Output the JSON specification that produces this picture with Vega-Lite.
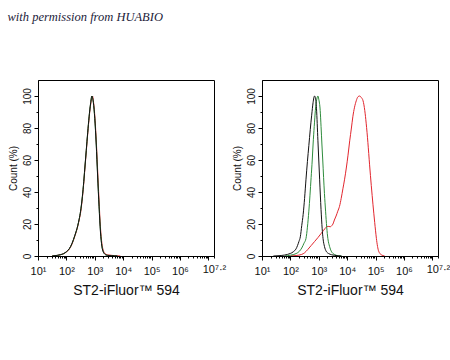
{
  "$schema": "https://vega.github.io/schema/vega-lite/v6.json",
  "autosize": {"type": "pad"},
  "padding": {"left": 7, "top": 11, "right": 5, "bottom": 5},
  "background": "white",
  "title": {"text": "with permission from HUABIO", "anchor": "start", "frame": "bounds", "font": "Liberation Serif", "fontStyle": "italic", "fontWeight": "normal", "fontSize": 12.5, "color": "#1c1c3a", "offset": 56},
  "config": {
    "view": {"stroke": "black", "strokeWidth": 1},
    "axis": {"domainColor": "black", "tickColor": "black", "labelColor": "#111", "titleColor": "#111", "labelFont": "Liberation Sans", "titleFont": "Liberation Sans", "titleFontWeight": "normal", "grid": false, "labelOverlap": false, "labelFlush": false}
  },
  "spacing": 4,
  "datasets": {
    "p1": [
      {"series": "Sample", "x": 1.5, "y": 0}, {"series": "Sample", "x": 1.6, "y": 0.2}, {"series": "Sample", "x": 1.7, "y": 0.4}, {"series": "Sample", "x": 1.8, "y": 0.8}, {"series": "Sample", "x": 1.9, "y": 1.4}, {"series": "Sample", "x": 2.0, "y": 2.5}, {"series": "Sample", "x": 2.1, "y": 4.2}, {"series": "Sample", "x": 2.2, "y": 7.5}, {"series": "Sample", "x": 2.3, "y": 12.5}, {"series": "Sample", "x": 2.4, "y": 18.5}, {"series": "Sample", "x": 2.45, "y": 22.5}, {"series": "Sample", "x": 2.5, "y": 27}, {"series": "Sample", "x": 2.55, "y": 34}, {"series": "Sample", "x": 2.6, "y": 43}, {"series": "Sample", "x": 2.65, "y": 54}, {"series": "Sample", "x": 2.7, "y": 65}, {"series": "Sample", "x": 2.75, "y": 76}, {"series": "Sample", "x": 2.8, "y": 86}, {"series": "Sample", "x": 2.85, "y": 94}, {"series": "Sample", "x": 2.9, "y": 99}, {"series": "Sample", "x": 2.92, "y": 100}, {"series": "Sample", "x": 2.95, "y": 97}, {"series": "Sample", "x": 3.0, "y": 88}, {"series": "Sample", "x": 3.05, "y": 73}, {"series": "Sample", "x": 3.1, "y": 54}, {"series": "Sample", "x": 3.15, "y": 35}, {"series": "Sample", "x": 3.2, "y": 18}, {"series": "Sample", "x": 3.25, "y": 8}, {"series": "Sample", "x": 3.3, "y": 3.5}, {"series": "Sample", "x": 3.35, "y": 1.8}, {"series": "Sample", "x": 3.4, "y": 1}, {"series": "Sample", "x": 3.5, "y": 0.6}, {"series": "Sample", "x": 3.6, "y": 0.4}, {"series": "Sample", "x": 3.7, "y": 0.2}, {"series": "Sample", "x": 3.8, "y": 0.1}, {"series": "Sample", "x": 3.9, "y": 0},
      {"series": "Isotype", "x": 1.5, "y": 0}, {"series": "Isotype", "x": 1.6, "y": 0.2}, {"series": "Isotype", "x": 1.7, "y": 0.4}, {"series": "Isotype", "x": 1.8, "y": 0.8}, {"series": "Isotype", "x": 1.9, "y": 1.4}, {"series": "Isotype", "x": 2.0, "y": 2.6}, {"series": "Isotype", "x": 2.1, "y": 4.4}, {"series": "Isotype", "x": 2.2, "y": 7.8}, {"series": "Isotype", "x": 2.3, "y": 12.8}, {"series": "Isotype", "x": 2.4, "y": 18.8}, {"series": "Isotype", "x": 2.45, "y": 23}, {"series": "Isotype", "x": 2.5, "y": 28}, {"series": "Isotype", "x": 2.55, "y": 35}, {"series": "Isotype", "x": 2.6, "y": 44}, {"series": "Isotype", "x": 2.65, "y": 55}, {"series": "Isotype", "x": 2.7, "y": 66}, {"series": "Isotype", "x": 2.75, "y": 77}, {"series": "Isotype", "x": 2.8, "y": 87}, {"series": "Isotype", "x": 2.85, "y": 95}, {"series": "Isotype", "x": 2.9, "y": 100}, {"series": "Isotype", "x": 2.92, "y": 99}, {"series": "Isotype", "x": 2.95, "y": 96}, {"series": "Isotype", "x": 3.0, "y": 86}, {"series": "Isotype", "x": 3.05, "y": 71}, {"series": "Isotype", "x": 3.1, "y": 51}, {"series": "Isotype", "x": 3.15, "y": 32}, {"series": "Isotype", "x": 3.2, "y": 16}, {"series": "Isotype", "x": 3.25, "y": 6.5}, {"series": "Isotype", "x": 3.3, "y": 2.8}, {"series": "Isotype", "x": 3.35, "y": 1.3}, {"series": "Isotype", "x": 3.4, "y": 0.7}, {"series": "Isotype", "x": 3.5, "y": 0.3}, {"series": "Isotype", "x": 3.6, "y": 0.2}, {"series": "Isotype", "x": 3.7, "y": 0.1}, {"series": "Isotype", "x": 3.8, "y": 0},
      {"series": "Blank", "x": 1.5, "y": 0}, {"series": "Blank", "x": 1.6, "y": 0.2}, {"series": "Blank", "x": 1.7, "y": 0.5}, {"series": "Blank", "x": 1.8, "y": 0.9}, {"series": "Blank", "x": 1.9, "y": 1.5}, {"series": "Blank", "x": 2.0, "y": 2.7}, {"series": "Blank", "x": 2.1, "y": 4.5}, {"series": "Blank", "x": 2.2, "y": 8}, {"series": "Blank", "x": 2.3, "y": 13}, {"series": "Blank", "x": 2.4, "y": 19}, {"series": "Blank", "x": 2.45, "y": 23}, {"series": "Blank", "x": 2.5, "y": 28}, {"series": "Blank", "x": 2.55, "y": 35}, {"series": "Blank", "x": 2.6, "y": 44}, {"series": "Blank", "x": 2.65, "y": 55}, {"series": "Blank", "x": 2.7, "y": 66}, {"series": "Blank", "x": 2.75, "y": 77}, {"series": "Blank", "x": 2.8, "y": 87}, {"series": "Blank", "x": 2.85, "y": 95}, {"series": "Blank", "x": 2.9, "y": 100}, {"series": "Blank", "x": 2.92, "y": 99}, {"series": "Blank", "x": 2.95, "y": 96}, {"series": "Blank", "x": 3.0, "y": 86}, {"series": "Blank", "x": 3.05, "y": 70}, {"series": "Blank", "x": 3.1, "y": 50}, {"series": "Blank", "x": 3.15, "y": 31}, {"series": "Blank", "x": 3.2, "y": 15}, {"series": "Blank", "x": 3.25, "y": 6}, {"series": "Blank", "x": 3.3, "y": 2.5}, {"series": "Blank", "x": 3.35, "y": 1.2}, {"series": "Blank", "x": 3.4, "y": 0.6}, {"series": "Blank", "x": 3.5, "y": 0.3}, {"series": "Blank", "x": 3.6, "y": 0.2}, {"series": "Blank", "x": 3.7, "y": 0.1}, {"series": "Blank", "x": 3.8, "y": 0}
    ],
    "p2": [
      {"series": "Sample", "x": 2.0, "y": 0}, {"series": "Sample", "x": 2.2, "y": 0.3}, {"series": "Sample", "x": 2.4, "y": 1}, {"series": "Sample", "x": 2.5, "y": 2}, {"series": "Sample", "x": 2.61, "y": 4}, {"series": "Sample", "x": 2.73, "y": 6.5}, {"series": "Sample", "x": 2.85, "y": 9}, {"series": "Sample", "x": 2.97, "y": 11.5}, {"series": "Sample", "x": 3.08, "y": 14}, {"series": "Sample", "x": 3.17, "y": 16}, {"series": "Sample", "x": 3.26, "y": 18}, {"series": "Sample", "x": 3.33, "y": 18.5}, {"series": "Sample", "x": 3.41, "y": 18.3}, {"series": "Sample", "x": 3.46, "y": 19}, {"series": "Sample", "x": 3.5, "y": 20}, {"series": "Sample", "x": 3.55, "y": 22.5}, {"series": "Sample", "x": 3.61, "y": 25}, {"series": "Sample", "x": 3.67, "y": 28}, {"series": "Sample", "x": 3.73, "y": 31}, {"series": "Sample", "x": 3.79, "y": 36}, {"series": "Sample", "x": 3.85, "y": 42}, {"series": "Sample", "x": 3.91, "y": 48}, {"series": "Sample", "x": 3.97, "y": 55}, {"series": "Sample", "x": 4.03, "y": 63}, {"series": "Sample", "x": 4.09, "y": 72}, {"series": "Sample", "x": 4.15, "y": 80}, {"series": "Sample", "x": 4.2, "y": 87}, {"series": "Sample", "x": 4.26, "y": 93}, {"series": "Sample", "x": 4.32, "y": 97}, {"series": "Sample", "x": 4.38, "y": 99.5}, {"series": "Sample", "x": 4.44, "y": 100}, {"series": "Sample", "x": 4.5, "y": 99}, {"series": "Sample", "x": 4.56, "y": 97}, {"series": "Sample", "x": 4.62, "y": 91}, {"series": "Sample", "x": 4.67, "y": 83}, {"series": "Sample", "x": 4.73, "y": 71}, {"series": "Sample", "x": 4.79, "y": 57}, {"series": "Sample", "x": 4.85, "y": 44}, {"series": "Sample", "x": 4.91, "y": 32}, {"series": "Sample", "x": 4.97, "y": 21}, {"series": "Sample", "x": 5.03, "y": 11}, {"series": "Sample", "x": 5.07, "y": 6}, {"series": "Sample", "x": 5.11, "y": 3}, {"series": "Sample", "x": 5.2, "y": 0.8}, {"series": "Sample", "x": 5.32, "y": 0},
      {"series": "Isotype", "x": 1.8, "y": 0}, {"series": "Isotype", "x": 2.0, "y": 0.5}, {"series": "Isotype", "x": 2.2, "y": 1.5}, {"series": "Isotype", "x": 2.32, "y": 3}, {"series": "Isotype", "x": 2.4, "y": 5}, {"series": "Isotype", "x": 2.48, "y": 8}, {"series": "Isotype", "x": 2.55, "y": 11}, {"series": "Isotype", "x": 2.6, "y": 18}, {"series": "Isotype", "x": 2.65, "y": 28}, {"series": "Isotype", "x": 2.69, "y": 38}, {"series": "Isotype", "x": 2.73, "y": 49}, {"series": "Isotype", "x": 2.77, "y": 60}, {"series": "Isotype", "x": 2.8, "y": 70}, {"series": "Isotype", "x": 2.84, "y": 81}, {"series": "Isotype", "x": 2.88, "y": 91}, {"series": "Isotype", "x": 2.93, "y": 98}, {"series": "Isotype", "x": 2.97, "y": 100}, {"series": "Isotype", "x": 3.0, "y": 98}, {"series": "Isotype", "x": 3.05, "y": 91}, {"series": "Isotype", "x": 3.08, "y": 81}, {"series": "Isotype", "x": 3.11, "y": 70}, {"series": "Isotype", "x": 3.14, "y": 60}, {"series": "Isotype", "x": 3.17, "y": 49}, {"series": "Isotype", "x": 3.2, "y": 39}, {"series": "Isotype", "x": 3.24, "y": 28}, {"series": "Isotype", "x": 3.28, "y": 18}, {"series": "Isotype", "x": 3.32, "y": 11}, {"series": "Isotype", "x": 3.38, "y": 6}, {"series": "Isotype", "x": 3.44, "y": 3}, {"series": "Isotype", "x": 3.55, "y": 1}, {"series": "Isotype", "x": 3.67, "y": 0.2}, {"series": "Isotype", "x": 3.8, "y": 0},
      {"series": "Blank", "x": 1.4, "y": 0}, {"series": "Blank", "x": 1.6, "y": 0.2}, {"series": "Blank", "x": 1.8, "y": 0.6}, {"series": "Blank", "x": 1.9, "y": 1}, {"series": "Blank", "x": 2.0, "y": 1.6}, {"series": "Blank", "x": 2.1, "y": 2.6}, {"series": "Blank", "x": 2.2, "y": 4.5}, {"series": "Blank", "x": 2.3, "y": 9}, {"series": "Blank", "x": 2.35, "y": 12}, {"series": "Blank", "x": 2.4, "y": 19}, {"series": "Blank", "x": 2.45, "y": 26}, {"series": "Blank", "x": 2.5, "y": 36}, {"series": "Blank", "x": 2.55, "y": 48}, {"series": "Blank", "x": 2.6, "y": 59}, {"series": "Blank", "x": 2.65, "y": 69}, {"series": "Blank", "x": 2.7, "y": 79}, {"series": "Blank", "x": 2.75, "y": 88}, {"series": "Blank", "x": 2.8, "y": 96}, {"series": "Blank", "x": 2.85, "y": 100}, {"series": "Blank", "x": 2.88, "y": 99}, {"series": "Blank", "x": 2.92, "y": 92}, {"series": "Blank", "x": 2.97, "y": 72}, {"series": "Blank", "x": 3.0, "y": 60}, {"series": "Blank", "x": 3.03, "y": 48}, {"series": "Blank", "x": 3.08, "y": 29}, {"series": "Blank", "x": 3.12, "y": 17}, {"series": "Blank", "x": 3.15, "y": 11}, {"series": "Blank", "x": 3.2, "y": 6}, {"series": "Blank", "x": 3.26, "y": 3}, {"series": "Blank", "x": 3.35, "y": 1.5}, {"series": "Blank", "x": 3.45, "y": 0.8}, {"series": "Blank", "x": 3.56, "y": 0.4}, {"series": "Blank", "x": 3.7, "y": 0.1}, {"series": "Blank", "x": 3.8, "y": 0}
    ]
  },
  "hconcat": [
    {
      "width": 176, "height": 176,
      "data": {"name": "p1"},
      "mark": {"type": "line", "strokeWidth": 1, "interpolate": "monotone", "clip": true},
      "encoding": {
        "x": {"field": "x", "type": "quantitative", "scale": {"domain": [1, 7.2], "nice": false, "zero": false},
          "axis": {"title": "ST2-iFluor™ 594", "titleFontSize": 14, "titlePadding": 7, "labelFontSize": 11, "labelPadding": 5,
            "values": [1, 1.30103, 1.47712, 1.60206, 1.69897, 1.77815, 1.8451, 1.90309, 1.95424, 2, 2.30103, 2.47712, 2.60206, 2.69897, 2.77815, 2.8451, 2.90309, 2.95424, 3, 3.30103, 3.47712, 3.60206, 3.69897, 3.77815, 3.8451, 3.90309, 3.95424, 4, 4.30103, 4.47712, 4.60206, 4.69897, 4.77815, 4.8451, 4.90309, 4.95424, 5, 5.30103, 5.47712, 5.60206, 5.69897, 5.77815, 5.8451, 5.90309, 5.95424, 6, 6.30103, 6.47712, 6.60206, 6.69897, 6.77815, 6.8451, 6.90309, 6.95424, 7, 7.2],
            "labelExpr": "datum.value == 7.2 ? '10⁷·²' : (datum.value % 1 == 0 && datum.value < 7 ? '10' + ['⁰','¹','²','³','⁴','⁵','⁶'][datum.value] : '')",
            "tickSize": {"condition": {"test": "datum.value % 1 == 0", "value": 4}, "value": 2}}},
        "y": {"field": "y", "type": "quantitative", "scale": {"domain": [0, 110], "nice": false},
          "axis": {"title": "Count (%)", "titleFontSize": 10, "titlePadding": 4, "labelFontSize": 10, "labelAngle": 270, "labelAlign": "center", "labelBaseline": "bottom", "labelPadding": 2,
            "values": [0, 10, 20, 30, 40, 50, 60, 70, 80, 90, 100],
            "labelExpr": "datum.value % 20 == 0 ? datum.label : ''",
            "tickSize": {"condition": {"test": "datum.value % 20 == 0", "value": 4}, "value": 2}}},
        "color": {"field": "series", "type": "nominal", "scale": {"domain": ["Sample", "Isotype", "Blank"], "range": ["#e2262e", "#2e8c3c", "#111111"]}, "legend": null}
      }
    },
    {
      "width": 176, "height": 176,
      "data": {"name": "p2"},
      "mark": {"type": "line", "strokeWidth": 1, "interpolate": "monotone", "clip": true},
      "encoding": {
        "x": {"field": "x", "type": "quantitative", "scale": {"domain": [1, 7.2], "nice": false, "zero": false},
          "axis": {"title": "ST2-iFluor™ 594", "titleFontSize": 14, "titlePadding": 7, "labelFontSize": 11, "labelPadding": 5,
            "values": [1, 1.30103, 1.47712, 1.60206, 1.69897, 1.77815, 1.8451, 1.90309, 1.95424, 2, 2.30103, 2.47712, 2.60206, 2.69897, 2.77815, 2.8451, 2.90309, 2.95424, 3, 3.30103, 3.47712, 3.60206, 3.69897, 3.77815, 3.8451, 3.90309, 3.95424, 4, 4.30103, 4.47712, 4.60206, 4.69897, 4.77815, 4.8451, 4.90309, 4.95424, 5, 5.30103, 5.47712, 5.60206, 5.69897, 5.77815, 5.8451, 5.90309, 5.95424, 6, 6.30103, 6.47712, 6.60206, 6.69897, 6.77815, 6.8451, 6.90309, 6.95424, 7, 7.2],
            "labelExpr": "datum.value == 7.2 ? '10⁷·²' : (datum.value % 1 == 0 && datum.value < 7 ? '10' + ['⁰','¹','²','³','⁴','⁵','⁶'][datum.value] : '')",
            "tickSize": {"condition": {"test": "datum.value % 1 == 0", "value": 4}, "value": 2}}},
        "y": {"field": "y", "type": "quantitative", "scale": {"domain": [0, 110], "nice": false},
          "axis": {"title": "Count (%)", "titleFontSize": 10, "titlePadding": 4, "labelFontSize": 10, "labelAngle": 270, "labelAlign": "center", "labelBaseline": "bottom", "labelPadding": 2,
            "values": [0, 10, 20, 30, 40, 50, 60, 70, 80, 90, 100],
            "labelExpr": "datum.value % 20 == 0 ? datum.label : ''",
            "tickSize": {"condition": {"test": "datum.value % 20 == 0", "value": 4}, "value": 2}}},
        "color": {"field": "series", "type": "nominal", "scale": {"domain": ["Sample", "Isotype", "Blank"], "range": ["#e2262e", "#2e8c3c", "#111111"]}, "legend": null}
      }
    }
  ]
}
